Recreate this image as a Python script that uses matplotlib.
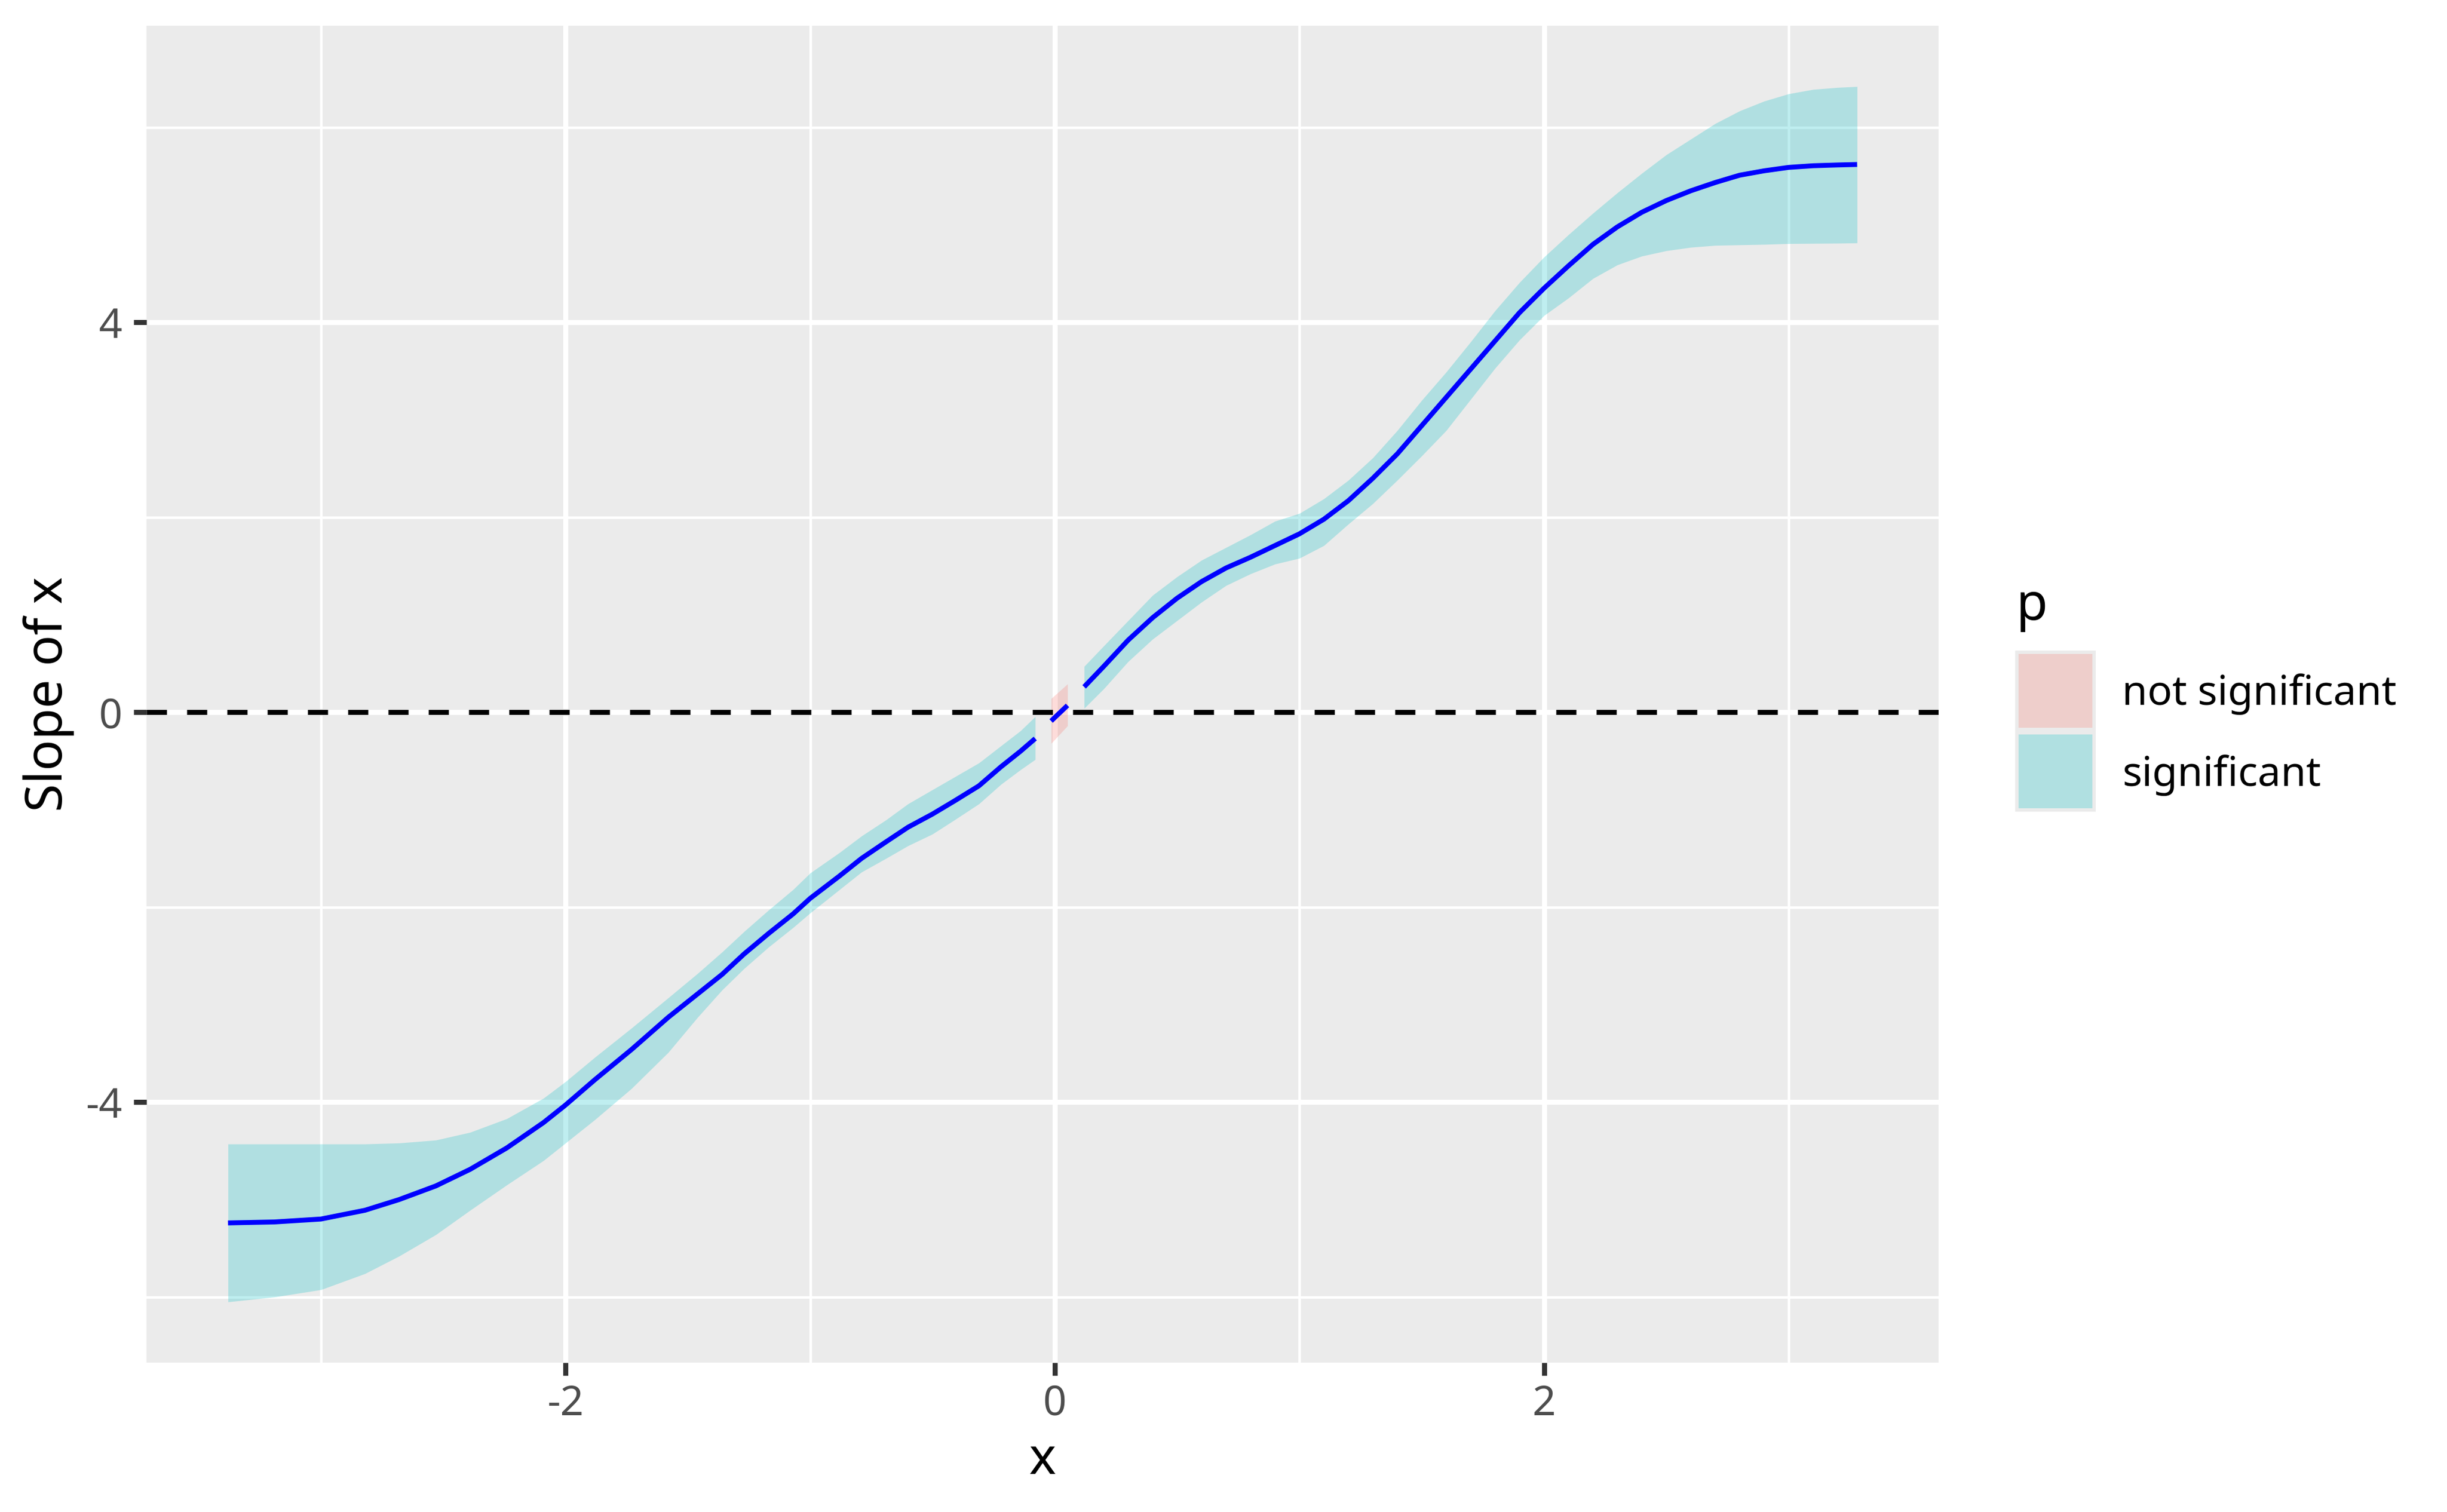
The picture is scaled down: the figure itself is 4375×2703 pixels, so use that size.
import matplotlib.pyplot as plt
import matplotlib.colors as mcolors
from matplotlib.patches import Rectangle

plt.rcParams['font.family'] = ['Noto Sans', 'DejaVu Sans']

# slope of x with its confidence band
x_vals = [-3.38, -3.19, -3.0, -2.82, -2.68, -2.53, -2.39, -2.24, -2.09, -2.0,
          -1.88, -1.73, -1.58, -1.46, -1.36, -1.27, -1.17, -1.07, -1.0, -0.88,
          -0.79, -0.69, -0.6, -0.5, -0.41, -0.31, -0.22, -0.14, -0.08,
          -0.015, 0.052,
          0.12, 0.2, 0.3, 0.4, 0.5, 0.6, 0.7, 0.8, 0.9, 1.0,
          1.1, 1.2, 1.3, 1.4, 1.5, 1.6, 1.7, 1.8, 1.9, 2.0,
          2.1, 2.2, 2.3, 2.4, 2.5, 2.6, 2.7, 2.8, 2.9, 3.0,
          3.1, 3.2, 3.28]
slope = [-5.24, -5.23, -5.20, -5.11, -5.00, -4.86, -4.69, -4.47, -4.21, -4.03,
         -3.77, -3.46, -3.13, -2.89, -2.69, -2.48, -2.27, -2.07, -1.91, -1.68,
         -1.50, -1.33, -1.18, -1.045, -0.91, -0.755, -0.56, -0.40, -0.27,
         -0.09, 0.07,
         0.26, 0.47, 0.74, 0.97, 1.17, 1.34, 1.48, 1.59, 1.71, 1.83,
         1.98, 2.17, 2.40, 2.65, 2.94, 3.23, 3.52, 3.81, 4.10, 4.35,
         4.58, 4.80, 4.98, 5.13, 5.25, 5.35, 5.435, 5.51, 5.555, 5.59,
         5.607, 5.615, 5.62]
lower = [-6.05, -6.00, -5.925, -5.76, -5.58, -5.36, -5.11, -4.85, -4.60, -4.42,
         -4.18, -3.86, -3.49, -3.13, -2.85, -2.63, -2.41, -2.21, -2.06, -1.82,
         -1.64, -1.50, -1.37, -1.25, -1.105, -0.94, -0.74, -0.59, -0.485,
         -0.32, -0.14,
         0.04, 0.24, 0.52, 0.75, 0.94, 1.13, 1.30, 1.42, 1.52, 1.58,
         1.71, 1.93, 2.14, 2.38, 2.63, 2.89, 3.21, 3.53, 3.82, 4.07,
         4.25, 4.45, 4.59, 4.68, 4.735, 4.77, 4.79, 4.795, 4.80, 4.808,
         4.81, 4.812, 4.815]
upper = [-4.43, -4.43, -4.43, -4.43, -4.42, -4.39, -4.31, -4.17, -3.96, -3.79,
         -3.54, -3.24, -2.93, -2.68, -2.46, -2.25, -2.03, -1.82, -1.65, -1.44,
         -1.27, -1.105, -0.94, -0.795, -0.665, -0.52, -0.345, -0.19, -0.045,
         0.14, 0.29,
         0.47, 0.68, 0.94, 1.20, 1.39, 1.56, 1.69, 1.82, 1.96, 2.04,
         2.19, 2.38, 2.61, 2.89, 3.20, 3.49, 3.80, 4.12, 4.41, 4.67,
         4.90, 5.12, 5.33, 5.53, 5.72, 5.88, 6.04, 6.17, 6.27, 6.345,
         6.39, 6.41, 6.42]
p_group = ["significant"] * 29 + ["not significant"] * 2 + ["significant"] * 33

x_breaks = [-2, 0, 2]
y_breaks = [-4, 0, 4]
x_minor = [-3, -1, 1, 3]
y_minor = [-6, -2, 2, 6]

fill_colours = {"not significant": "#F8766D", "significant": "#00BFC4"}
legend_order = ["not significant", "significant"]
panel_bg = "#EBEBEB"

W, H = 4375, 2703
fig = plt.figure(figsize=(W / 600, H / 600), dpi=600)
ax = fig.add_axes([262 / W, 1 - 2436 / H, (3466 - 262) / W, (2436 - 46) / H])
ax.set_facecolor(panel_bg)
for s in ax.spines.values():
    s.set_visible(False)

# split into runs of the same p value, like ggplot's grouping
runs = []
start = 0
for i in range(1, len(x_vals) + 1):
    if i == len(x_vals) or p_group[i] != p_group[start]:
        runs.append((start, i))
        start = i

for a, b in runs:
    ax.fill_between(x_vals[a:b], lower[a:b], upper[a:b],
                    color=fill_colours[p_group[a]], alpha=0.25, lw=0, zorder=2)
    ax.plot(x_vals[a:b], slope[a:b], color="blue", lw=1.05,
            solid_capstyle="butt", solid_joinstyle="round", zorder=3)

# ggplot style 5% expansion
xr = max(x_vals) - min(x_vals)
yr = max(upper) - min(lower)
ax.set_xlim(min(x_vals) - 0.05 * xr, max(x_vals) + 0.05 * xr)
ax.set_ylim(min(lower) - 0.05 * yr, max(upper) + 0.05 * yr)

ax.axhline(0, color="black", lw=1.08, dashes=(4, 4), zorder=4)

ax.set_xticks(x_breaks)
ax.set_xticklabels([str(v) for v in x_breaks])
ax.set_yticks(y_breaks)
ax.set_yticklabels([str(v) for v in y_breaks])
ax.set_xticks(x_minor, minor=True)
ax.set_yticks(y_minor, minor=True)
ax.set_axisbelow(True)
ax.grid(which="major", color="white", lw=1.08)
ax.grid(which="minor", color="white", lw=0.54)
ax.tick_params(which="major", length=2.75, width=1.08, color="#333333",
               labelsize=8.8, labelcolor="#4D4D4D")
ax.tick_params(axis="x", pad=1.8)
ax.tick_params(axis="y", pad=2.5)
ax.tick_params(which="minor", length=0)

fig.text(1864 / W, 1 - 2635 / H, "x", fontsize=11, ha="center", va="baseline")
fig.text(87 / W, 1 - 1241 / H, "Slope of x", fontsize=11, rotation=90,
         ha="center", va="center")

# legend
fig.text(3604 / W, 1 - 1108 / H, "p", fontsize=11, ha="left", va="baseline")
bg_rgb = mcolors.to_rgb(panel_bg)
key_top = 1163
key_h = 144
label_base = [1260, 1405]
for k, name in enumerate(legend_order):
    y0 = key_top + k * key_h
    fig.add_artist(Rectangle((3603 / W, 1 - (y0 + key_h) / H), 144 / W, key_h / H,
                             transform=fig.transFigure, facecolor=panel_bg,
                             edgecolor="none"))
    c = mcolors.to_rgb(fill_colours[name])
    blend = tuple(0.25 * ci + 0.75 * bi for ci, bi in zip(c, bg_rgb))
    fig.add_artist(Rectangle((3609 / W, 1 - (y0 + key_h - 6) / H), 132 / W,
                             (key_h - 12) / H, transform=fig.transFigure,
                             facecolor=blend, edgecolor="none"))
    fig.text(3794 / W, 1 - label_base[k] / H, name, fontsize=8.8,
             ha="left", va="baseline")

fig.savefig("out.png", dpi=600)
